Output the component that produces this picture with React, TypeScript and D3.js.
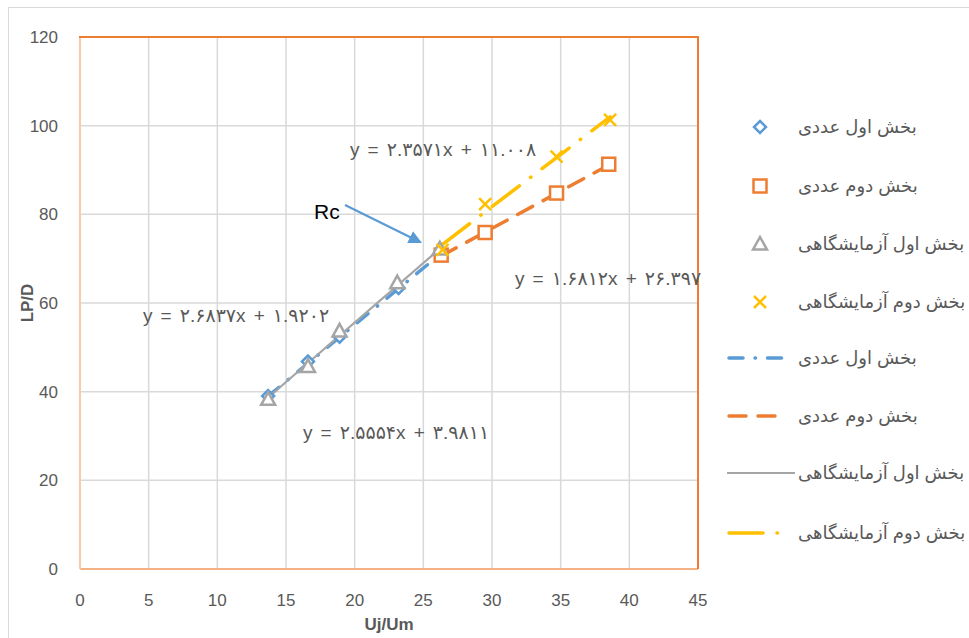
import React from "react";
import * as d3 from "d3";

// ---- data ----
const s1x = [13.7, 16.6, 18.9, 23.2, 26.2];
const s1y = [39.0, 46.8, 52.4, 63.4, 71.0];
const s2x = [26.3, 29.5, 34.7, 38.5];
const s2y = [70.8, 75.9, 84.8, 91.3];
const s3x = [13.7, 16.6, 18.9, 23.1, 26.2];
const s3y = [38.3, 45.7, 53.7, 64.6, 72.2];
const s4x = [26.4, 29.5, 34.7, 38.6];
const s4y = [72.0, 82.3, 93.0, 101.3];

const seriesNames = ["بخش اول عددی", "بخش دوم عددی", "بخش اول آزمایشگاهی", "بخش دوم آزمایشگاهی"];
const seriesColors = ["#5B9BD5", "#ED7D31", "#A5A5A5", "#FFC000"];
const slopes = [2.5554, 1.6812, 2.6837, 2.3571];
const intercepts = [3.9811, 26.397, 1.9202, 11.008];
const eqLabels = [
  "y = ۲.۵۵۵۴x + ۳.۹۸۱۱",
  "y = ۱.۶۸۱۲x + ۲۶.۳۹۷",
  "y = ۲.۶۸۳۷x + ۱.۹۲۰۲",
  "y = ۲.۳۵۷۱x + ۱۱.۰۰۸",
];
const xTicks = [0, 5, 10, 15, 20, 25, 30, 35, 40, 45];
const yTicks = [0, 20, 40, 60, 80, 100, 120];

const FONT = "'Liberation Sans', 'DejaVu Sans', sans-serif";

export default function App() {
  const x = d3.scaleLinear().domain([0, 45]).range([80, 698]);
  const y = d3.scaleLinear().domain([0, 120]).range([569, 37]);

  const xs = [s1x, s2x, s3x, s4x];
  const ys = [s1y, s2y, s3y, s4y];
  const dashes = ["14 12 0.5 12", "17 12", "none", "34 14 0.5 14"];
  const eqPos = [
    [303, 439],
    [515, 285],
    [143, 322],
    [350, 156],
  ];

  const marker = (i: number, cx: number, cy: number, key: string) => {
    const c = seriesColors[i];
    if (i === 0) {
      const r = 6;
      return <path key={key} d={`M${cx},${cy - r}L${cx + r},${cy}L${cx},${cy + r}L${cx - r},${cy}Z`} fill="white" stroke={c} strokeWidth={2.5} />;
    }
    if (i === 1) {
      const r = 6.5;
      return <rect key={key} x={cx - r} y={cy - r} width={2 * r} height={2 * r} fill="white" stroke={c} strokeWidth={2.5} />;
    }
    if (i === 2) {
      const r = 7;
      return <path key={key} d={`M${cx},${cy - r}L${cx + r},${cy + r * 0.8}L${cx - r},${cy + r * 0.8}Z`} fill="white" stroke={c} strokeWidth={2.5} strokeLinejoin="miter" />;
    }
    const r = 6;
    return (
      <path key={key} d={`M${cx - r},${cy - r}L${cx + r},${cy + r}M${cx + r},${cy - r}L${cx - r},${cy + r}`} stroke={c} strokeWidth={2.5} fill="none" />
    );
  };

  const legendYs = [127, 186, 244, 302, 358, 416, 473, 533];

  return (
    <svg width={969} height={638} style={{ position: "absolute", left: 0, top: 0 }} fontFamily={FONT}>
      <rect x={0} y={0} width={969} height={638} fill="white" />
      <rect x={8.5} y={7.5} width={970} height={640} fill="none" stroke="#D9D9D9" strokeWidth={1} />

      {/* grid */}
      {xTicks.map((t) => (
        <line key={"gx" + t} x1={x(t)} x2={x(t)} y1={y(0)} y2={y(120)} stroke="#D9D9D9" strokeWidth={1.5} />
      ))}
      {yTicks.map((t) => (
        <line key={"gy" + t} x1={x(0)} x2={x(45)} y1={y(t)} y2={y(t)} stroke="#D9D9D9" strokeWidth={1.5} />
      ))}
      {/* plot border */}
      <line x1={x(0)} x2={x(45)} y1={y(0)} y2={y(0)} stroke="#F4B183" strokeWidth={2} />
      <line x1={x(0)} x2={x(0)} y1={y(0)} y2={y(120)} stroke="#F8CBAD" strokeWidth={2} />
      <line x1={x(0) - 1} x2={x(45) + 1} y1={y(120)} y2={y(120)} stroke="#ED7D31" strokeWidth={2} />
      <line x1={x(45)} x2={x(45)} y1={y(0)} y2={y(120)} stroke="#ED7D31" strokeWidth={2} />

      {/* ticks labels */}
      {yTicks.map((t) => (
        <text key={"ty" + t} x={58} y={y(t) + 6} textAnchor="end" fontSize={17} fill="#595959">
          {t}
        </text>
      ))}
      {xTicks.map((t) => (
        <text key={"tx" + t} x={x(t)} y={606} textAnchor="middle" fontSize={17} fill="#595959">
          {t}
        </text>
      ))}
      <text x={389} y={630} textAnchor="middle" fontSize={17} fontWeight="bold" fill="#595959">
        Uj/Um
      </text>
      <text transform={`translate(33,${y(60)}) rotate(-90)`} textAnchor="middle" fontSize={17} fontWeight="bold" fill="#595959">
        LP/D
      </text>

      {/* trendlines */}
      {[0, 1, 2, 3].map((i) => {
        const x0 = d3.min(xs[i])!;
        const x1 = d3.max(xs[i])!;
        return (
          <line
            key={"tl" + i}
            x1={x(x0)}
            y1={y(slopes[i] * x0 + intercepts[i])}
            x2={x(x1)}
            y2={y(slopes[i] * x1 + intercepts[i])}
            stroke={seriesColors[i]}
            strokeWidth={i === 2 ? 2.2 : 3.5}
            strokeDasharray={dashes[i]}
            strokeLinecap={i === 2 ? "butt" : "round"}
          />
        );
      })}

      {/* markers */}
      {[0, 1, 2, 3].map((i) => xs[i].map((v, j) => marker(i, x(v), y(ys[i][j]), `m${i}-${j}`)))}

      {/* equations */}
      {[0, 1, 2, 3].map((i) => (
        <text key={"eq" + i} x={eqPos[i][0]} y={eqPos[i][1]} fontSize={19} letterSpacing={1.4} fill="#595959" direction="ltr">
          {eqLabels[i]}
        </text>
      ))}

      {/* Rc annotation */}
      <text x={314} y={219} fontSize={21} fill="#000">
        Rc
      </text>
      <defs>
        <marker id="ah" markerWidth={6} markerHeight={6} refX={5} refY={3} orient="auto" markerUnits="strokeWidth">
          <path d="M0,0L6,3L0,6Z" fill="#5B9BD5" />
        </marker>
      </defs>
      <line x1={345} y1={205} x2={420} y2={242} stroke="#5B9BD5" strokeWidth={2.2} markerEnd="url(#ah)" />

      {/* legend */}
      {[0, 1, 2, 3].map((i) => (
        <g key={"lg" + i}>
          {marker(i, 760, legendYs[i], "lm" + i)}
          <text x={798} y={legendYs[i] + 6} fontSize={18} fill="#595959">
            {seriesNames[i]}
          </text>
        </g>
      ))}
      {[0, 1, 2, 3].map((i) => (
        <g key={"lt" + i}>
          <line
            x1={i === 2 ? 727 : 729}
            x2={i === 2 ? 795 : 783}
            y1={legendYs[i + 4]}
            y2={legendYs[i + 4]}
            stroke={seriesColors[i]}
            strokeWidth={i === 2 ? 2 : 3.5}
            strokeDasharray={dashes[i]}
            strokeLinecap={i === 2 ? "butt" : "round"}
          />
          <text x={798} y={legendYs[i + 4] + 6} fontSize={18} fill="#595959">
            {seriesNames[i]}
          </text>
        </g>
      ))}
    </svg>
  );
}
